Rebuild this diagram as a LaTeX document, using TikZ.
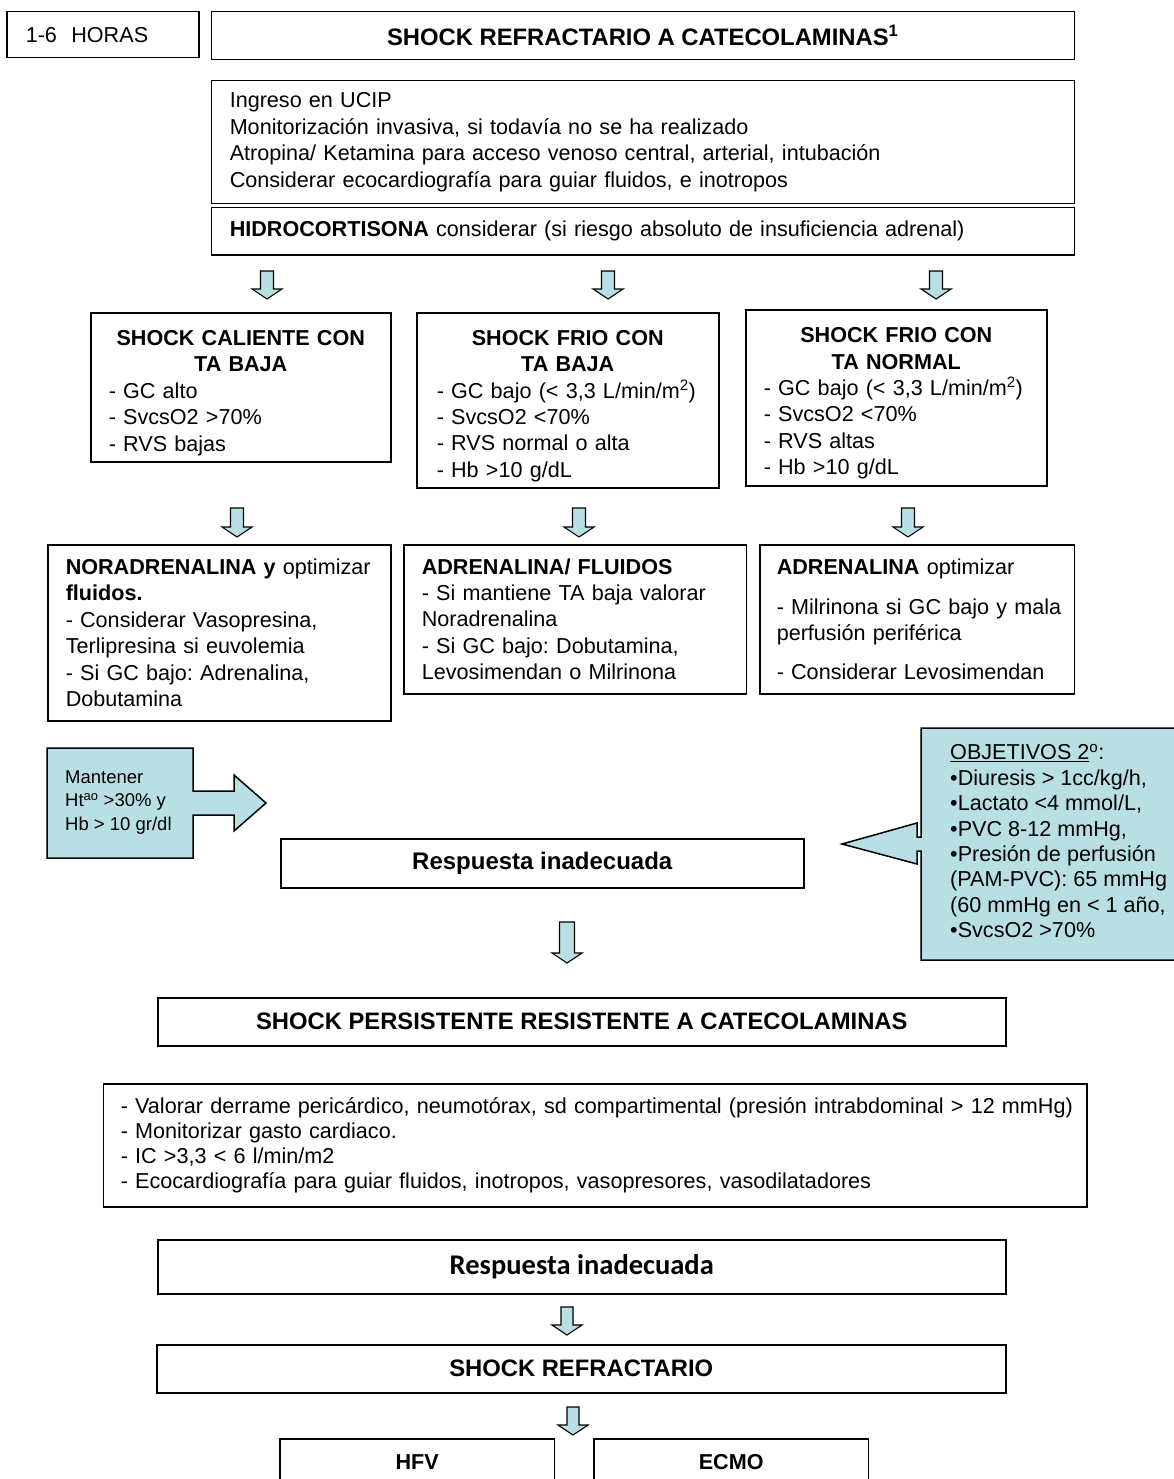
\documentclass[tikz,border=0pt]{standalone}
\usepackage{fontspec}
\setmainfont{Liberation Sans}
\newfontfamily\calibfont{Carlito}
\definecolor{aqua}{RGB}{184,223,227}
\frenchspacing
% body text size and line pitch
\newcommand\fs{\fontsize{21.6}{26.4}\selectfont}
% left indent of the text inside a box
\newcommand\lsk[1]{\leftskip=#1pt\relax\parindent=0pt\relax}
% centred heading line inside a box
\newcommand\ctr[1]{\par\hbox to\hsize{\hss#1\hss}}
% block arrow pointing down: x, top, tip, half shaft width
\newcommand\blockdown[4]{%
  \draw[barrow] (#1-#4,#2) -- (#1+#4,#2) -- (#1+#4,#3-10) -- (#1+15,#3-10)
    -- (#1,#3) -- (#1-15,#3-10) -- (#1-#4,#3-10) -- cycle;}

\begin{document}
\begin{tikzpicture}[x=1pt,y=-1pt,
  box/.style={draw, line width=1.5pt, anchor=north west, inner xsep=8pt,
    inner ysep=0pt, font=\fs},
  cbox/.style={draw, line width=1.5pt, anchor=north west, inner sep=0pt,
    align=center, font=\fontsize{23.8}{28}\selectfont\bfseries},
  barrow/.style={draw, line width=1.1pt, fill=aqua, line join=miter},
  callout/.style={draw, line width=1.5pt, fill=aqua, line join=miter}]
\useasboundingbox (0,0) rectangle (1174,1479);
\clip (0,0) rectangle (1174,1479);
\fill[white] (0,0) rectangle (1174,1479);

% header
\node[box, minimum width=192pt, minimum height=46pt, text width=176pt] (hours) at (6,11)
  {\lsk{11}1-6\ \ HORAS\par};
\node[cbox, minimum width=863pt, minimum height=48pt] (title) at (210.5,11)
  {SHOCK REFRACTARIO A CATECOLAMINAS\textsuperscript{1}};

% first measures
\node[box, minimum width=863pt, minimum height=123pt, text width=847pt] (ingreso) at (210.5,80)
  {\lsk{10.5}Ingreso en UCIP\\
   Monitorización invasiva, si todavía no se ha realizado\\
   Atropina/ Ketamina para acceso venoso central, arterial, intubación\\
   Considerar ecocardiografía para guiar fluidos, e inotropos\par};
\node[box, minimum width=863pt, minimum height=47pt, text width=847pt] (hidro) at (210.5,207)
  {\lsk{10.5}\textbf{HIDROCORTISONA} considerar (si riesgo absoluto de insuficiencia adrenal)\par};

\blockdown{267}{271}{299}{6.5}
\blockdown{608}{271}{299}{6.5}
\blockdown{936}{271}{299}{6.5}

% shock types
\node[box, minimum width=300pt, minimum height=149pt, text width=284pt] (hot) at (90,312)
  {\lsk{10}\ctr{\bfseries SHOCK CALIENTE CON}\ctr{\bfseries TA BAJA}
   - GC alto\\
   - SvcsO2 >70\%\\
   - RVS bajas\par};
\node[box, minimum width=302pt, minimum height=175pt, text width=286pt] (coldlow) at (416,312)
  {\lsk{12}\ctr{\bfseries SHOCK FRIO CON}\ctr{\bfseries TA BAJA}
   - GC bajo (< 3,3 L/min/m\textsuperscript{2})\\
   - SvcsO2 <70\%\\
   - RVS normal o alta\\
   - Hb >10 g/dL\par};
\node[box, minimum width=301pt, minimum height=176pt, text width=285pt] (coldnorm) at (745,309)
  {\lsk{10}\ctr{\bfseries SHOCK FRIO CON}\ctr{\bfseries TA NORMAL}
   - GC bajo (< 3,3 L/min/m\textsuperscript{2})\\
   - SvcsO2 <70\%\\
   - RVS altas\\
   - Hb >10 g/dL\par};

\blockdown{237}{508}{537}{6.5}
\blockdown{579}{508}{537}{6.5}
\blockdown{908}{508}{537}{6.5}

% treatments
\node[box, minimum width=343pt, minimum height=176pt, text width=327pt] (nora) at (47,544)
  {\lsk{10}\textbf{NORADRENALINA y} optimizar\\
   \textbf{fluidos.}\\
   - Considerar Vasopresina,\\
   Terlipresina si euvolemia\\
   - Si GC bajo: Adrenalina,\\
   Dobutamina\par};
\node[box, minimum width=342.5pt, minimum height=149pt, text width=326.5pt] (adrflu) at (403,544)
  {\lsk{10}\textbf{ADRENALINA/ FLUIDOS}\\
   - Si mantiene TA baja valorar\\
   Noradrenalina\\
   - Si GC bajo: Dobutamina,\\
   Levosimendan o Milrinona\par};
\node[box, minimum width=314.6pt, minimum height=149pt, text width=298.6pt] (adropt) at (759,544)
  {\lsk{9}\textbf{ADRENALINA} optimizar\\[13pt]
   - Milrinona si GC bajo y mala\\
   perfusión periférica\\[12pt]
   - Considerar Levosimendan\par};

% side notes
\draw[callout] (47,748) -- (193,748) -- (193,791) -- (234,791) -- (234,775) -- (266,803)
  -- (234,831) -- (234,815) -- (193,815) -- (193,858) -- (47,858) -- cycle;
\node[anchor=west, inner sep=0pt, align=left, font=\fontsize{18.5}{23.5}\selectfont] (mant) at (65,802.5)
  {Mantener\\ Ht\textsuperscript{ao} >30\% y\\ Hb > 10 gr/dl};

\draw[callout] (921,728) -- (1180,728) -- (1180,960) -- (921,960) -- (921,851) -- (917,851)
  -- (917,864) -- (842,844) -- (917,823) -- (917,837) -- (921,837) -- cycle;
\node[anchor=west, inner sep=0pt, align=left, font=\fontsize{21.6}{25.4}\selectfont] (obj) at (950,841)
  {\underline{OBJETIVOS 2}\textsuperscript{o}:\\
   •Diuresis > 1cc/kg/h,\\
   •Lactato <4 mmol/L,\\
   •PVC 8-12 mmHg,\\
   •Presión de perfusión\\
   (PAM-PVC): 65 mmHg\\
   (60 mmHg en < 1 año,\\
   •SvcsO2 >70\%};

\node[cbox, minimum width=523pt, minimum height=49pt, font=\fontsize{24}{28}\selectfont\bfseries] (resp1) at (280,838)
  {Respuesta inadecuada};

\blockdown{567}{922}{963}{7.5}

% persistent shock
\node[cbox, minimum width=848pt, minimum height=48pt] (persist) at (157,997)
  {SHOCK PERSISTENTE RESISTENTE A CATECOLAMINAS};
\node[box, minimum width=983.5pt, minimum height=123pt, text width=967.5pt,
  font=\fontsize{21.6}{25.3}\selectfont] (valorar) at (102.5,1083)
  {\lsk{9.5}- Valorar derrame pericárdico, neumotórax, sd compartimental (presión intrabdominal > 12 mmHg)\\
   - Monitorizar gasto cardiaco.\\
   - IC >3,3 < 6 l/min/m2\\
   - Ecocardiografía para guiar fluidos, inotropos, vasopresores, vasodilatadores\par};

\node[cbox, minimum width=848pt, minimum height=54pt, font=\fontsize{28.5}{32}\selectfont\calibfont\bfseries] (resp2) at (157,1239)
  {Respuesta inadecuada};
\blockdown{567}{1307}{1335}{6}
\node[cbox, minimum width=849pt, minimum height=48pt] (refract) at (156,1344)
  {SHOCK REFRACTARIO};
\blockdown{573}{1407}{1435}{6}

% rescue therapies (boxes run past the lower edge)
\node[anchor=north west, inner sep=0pt, minimum width=274pt, minimum height=46pt,
  font=\fontsize{21.6}{26}\selectfont\bfseries] (hfv) at (280,1439) {HFV};
\node[anchor=north west, inner sep=0pt, minimum width=274pt, minimum height=46pt,
  font=\fontsize{21.6}{26}\selectfont\bfseries] (ecmo) at (594,1439) {ECMO};
\draw[line width=1.5pt] (hfv.north west) rectangle ([yshift=-40pt]hfv.south east);
\draw[line width=1.5pt] (ecmo.north west) rectangle ([yshift=-40pt]ecmo.south east);
\end{tikzpicture}
\end{document}
